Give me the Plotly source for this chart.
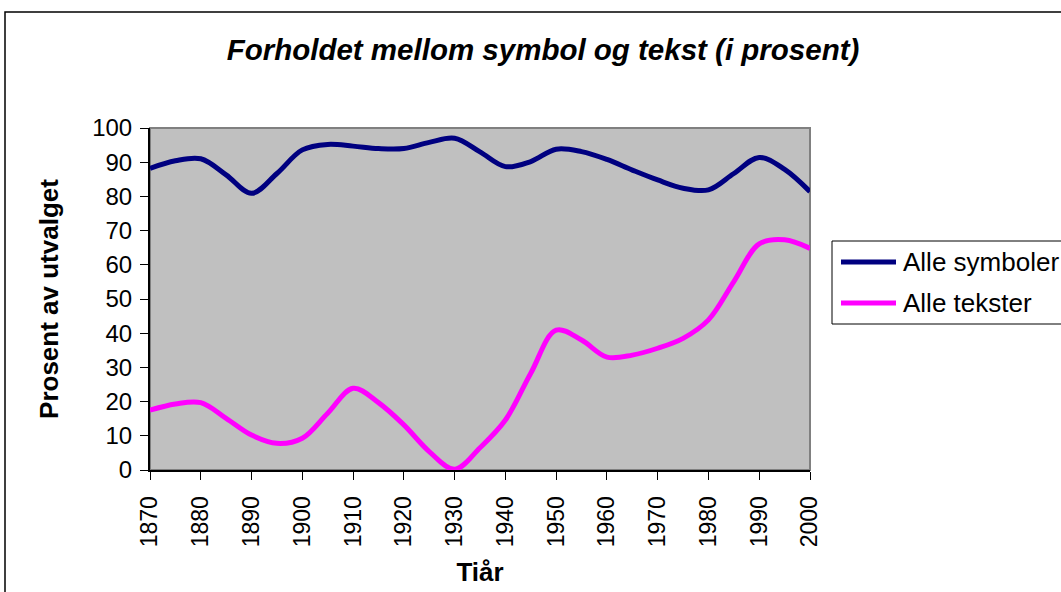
import plotly.graph_objects as go

years = list(range(1870, 2001, 5))
symboler = [88.2, 90.4, 91.0, 86.3, 80.9, 86.7, 93.6, 95.2, 94.7, 94.0, 94.0, 95.8, 97.0,
            93.0, 88.7, 90.2, 93.8, 93.1, 90.8, 87.7, 84.8, 82.4, 81.9, 86.7, 91.4, 87.9, 81.4]
tekster = [17.5, 19.3, 19.7, 15.1, 10.2, 7.8, 9.3, 16.6, 23.9, 19.7, 13.2, 5.4, 0.2,
           6.5, 14.6, 28.3, 40.9, 38.0, 33.0, 33.6, 35.6, 38.5, 43.9, 55.1, 66.1, 67.3, 64.8]
series_names = ["Alle symboler", "Alle tekster"]
series_colors = ["#000080", "#FF00FF"]
tick_years = list(range(1870, 2001, 10))
tick_labels = [str(y) for y in tick_years]
y_ticks = list(range(0, 101, 10))

FONT = "Liberation Sans, Arial, sans-serif"

fig = go.Figure()
for name, vals, col in zip(series_names, [symboler, tekster], series_colors):
    fig.add_trace(go.Scatter(x=years, y=vals, name=name, mode="lines", showlegend=False,
                             line=dict(color=col, width=5, shape="spline", smoothing=1.0)))

L, R, T, B = 150, 251, 128, 122
W, H = 1061, 592
pw, ph = W - L - R, H - T - B

def px(x):
    return (x - L) / pw

def py(y):
    return (H - B - y) / ph

shapes = [
    dict(type="rect", xref="paper", yref="paper", x0=0, x1=1, y0=0, y1=1,
         line=dict(color="#808080", width=2), layer="below"),
    dict(type="rect", xref="paper", yref="paper", x0=px(5), x1=px(1075), y0=py(605), y1=py(12),
         line=dict(color="black", width=1.5), fillcolor="rgba(0,0,0,0)", layer="below"),
    # legend box
    dict(type="rect", xref="paper", yref="paper", x0=px(832), x1=px(1075), y0=py(324), y1=py(241),
         line=dict(color="black", width=1), fillcolor="white", layer="above"),
]
annotations = []
legend_y = [262, 303]
for name, col, ly in zip(series_names, series_colors, legend_y):
    shapes.append(dict(type="line", xref="paper", yref="paper", x0=px(841), x1=px(896),
                       y0=py(ly), y1=py(ly), line=dict(color=col, width=5), layer="above"))
    annotations.append(dict(text=name, xref="paper", yref="paper", x=px(901), y=py(ly),
                            xanchor="left", yanchor="middle", showarrow=False,
                            font=dict(size=26, family=FONT, color="black")))

fig.update_layout(
    width=W, height=H,
    margin=dict(l=L, r=R, t=T, b=B, autoexpand=False),
    paper_bgcolor="white", plot_bgcolor="#C0C0C0",
    font=dict(family=FONT, color="black"),
    showlegend=False,
    title=dict(text="<b><i>Forholdet mellom symbol og tekst (i prosent)</i></b>",
               x=543 / W, xanchor="center", y=1 - 50 / H, yanchor="middle",
               font=dict(size=29.5, family=FONT, color="black")),
    xaxis=dict(range=[1870, 2000], tickvals=tick_years, ticktext=tick_labels,
               tickangle=-90, ticks="outside", ticklen=8, tickcolor="black",
               showline=True, linecolor="black", linewidth=2, showgrid=False, zeroline=False,
               tickfont=dict(size=23, family=FONT), ticklabelstandoff=7,
               title=dict(text="<b>Tiår</b>", font=dict(size=26, family=FONT), standoff=16)),
    yaxis=dict(range=[0, 100], tickvals=y_ticks, ticks="outside", ticklen=8, tickcolor="black",
               showline=True, linecolor="black", linewidth=2, showgrid=False, zeroline=False,
               tickfont=dict(size=24, family=FONT), ticklabelstandoff=3,
               title=dict(text="<b>Prosent av utvalget</b>", font=dict(size=26, family=FONT),
                          standoff=26)),
    shapes=shapes,
    annotations=annotations,
)

fig.write_html("out.html", config={"displayModeBar": False},
               post_script="document.body.style.margin='0px';")
